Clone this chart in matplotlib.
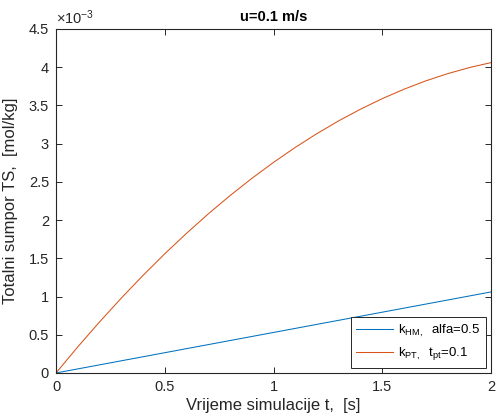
import matplotlib
matplotlib.use("Agg")
import matplotlib.pyplot as plt
from matplotlib.ticker import FuncFormatter

plt.rcParams['font.family'] = ['Liberation Sans', 'DejaVu Sans']
plt.rcParams['mathtext.default'] = 'regular'

# vrijeme simulacije [s]
t_pt = [0.0, 0.1, 0.2, 0.3, 0.4, 0.5, 0.6, 0.7, 0.8, 0.9, 1.0,
        1.1, 1.2, 1.3, 1.4, 1.5, 1.6, 1.7, 1.8, 1.9, 2.0]
# k_PT, t_pt=0.1  (x 1e-3 mol/kg)
ts_pt = [0.0, 0.341, 0.667, 0.979, 1.276, 1.559, 1.827, 2.081, 2.320, 2.545, 2.755,
         2.951, 3.132, 3.299, 3.451, 3.589, 3.712, 3.821, 3.915, 3.995, 4.06]
# k_HM, alfa=0.5
t_hm = [0.0, 0.5, 1.0, 1.5, 2.0]
ts_hm = [0.0, 0.265, 0.53, 0.795, 1.06]

xticks = [0, 0.5, 1, 1.5, 2]
yticks = [0, 0.5, 1, 1.5, 2, 2.5, 3, 3.5, 4, 4.5]

fig = plt.figure(figsize=(4.97, 4.20), dpi=100)
ax = fig.add_axes([0.1127, 0.112, 0.8753, 0.819])

ax.plot(t_hm, ts_hm, color='#0072BD', lw=0.75, label='k$_{HM,}$  alfa=0.5')
ax.plot(t_pt, ts_pt, color='#D95319', lw=0.75, label='k$_{PT,}$  t$_{pt}$=0.1',
        solid_joinstyle='round')

ax.set_xlim(0, 2)
ax.set_ylim(0, 4.5)
ax.set_xticks(xticks)
ax.set_yticks(yticks)
fmt = FuncFormatter(lambda v, p: '%g' % v)
ax.xaxis.set_major_formatter(fmt)
ax.yaxis.set_major_formatter(fmt)

gray = '#262626'
for s in ax.spines.values():
    s.set_color(gray)
    s.set_linewidth(0.8)
ax.tick_params(direction='in', top=True, right=True, length=4, width=0.7,
               colors=gray, labelsize=10.5, pad=5)

ax.set_xlabel('Vrijeme simulacije t,  [s]', fontsize=12, color=gray, labelpad=3)
ax.set_ylabel('Totalni sumpor TS,  [mol/kg]', fontsize=12, color=gray, labelpad=8)
ax.set_title('u=0.1 m/s', fontsize=10.5, fontweight='bold', color='black', pad=6)
ax.text(0, 1.006, r'$\times$10$^{-3}$', transform=ax.transAxes, fontsize=10.5,
        color=gray, va='bottom', ha='left')

leg = ax.legend(loc='lower right', fontsize=9.5, fancybox=False, framealpha=1,
                edgecolor=gray, borderaxespad=0.4, handlelength=2.8,
                handletextpad=0.4, labelspacing=0.5, borderpad=0.4)
leg.get_frame().set_linewidth(0.7)

plt.savefig('out.png', dpi=100)
